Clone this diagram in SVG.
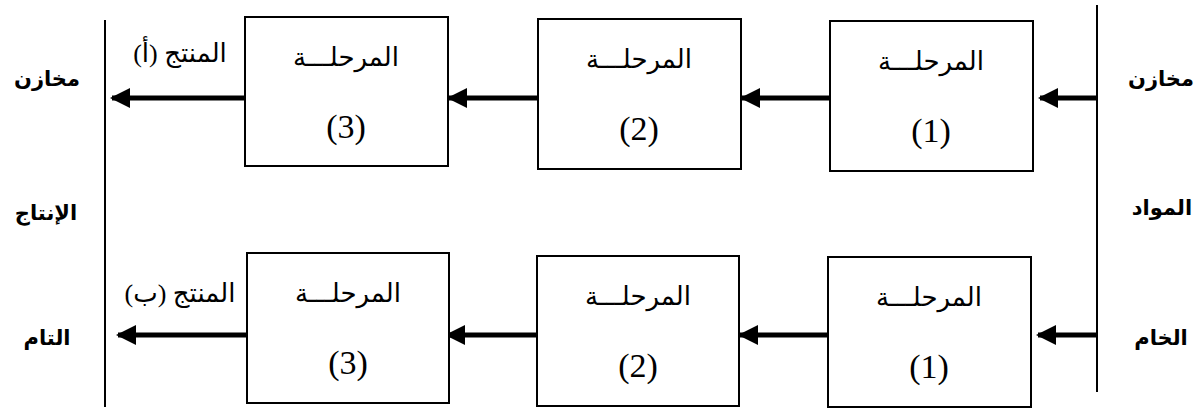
<svg xmlns="http://www.w3.org/2000/svg" width="1199" height="409" viewBox="0 0 1199 409">
<style>
.box{fill:#fff;stroke:#000;stroke-width:2}
.ln{stroke:#000;stroke-width:2;fill:none}
.ar{stroke:#000;stroke-width:5;fill:none;marker-end:url(#ah)}
.t{font-family:"Liberation Serif","DejaVu Serif","DejaVu Sans",serif;fill:#000;text-anchor:middle}
.ar1{font-size:26px}
.num{font-size:34px}
.lab{font-family:"DejaVu Sans","Liberation Sans",sans-serif;font-weight:bold;font-size:21px;fill:#000;text-anchor:middle}
</style>
<defs>
<marker id="ah" markerWidth="4" markerHeight="4" refX="3.6" refY="2" orient="auto" markerUnits="strokeWidth" viewBox="0 0 4 4">
<path d="M0,0 L4,2 L0,4 Z" fill="#000"/>
</marker>
</defs>
<g id="stores">
<line class="ln" x1="105" y1="20" x2="105" y2="407"/>
<line class="ln" x1="1097" y1="5" x2="1097" y2="392"/>
<text class="lab" x="47" y="86" direction="rtl">مخازن</text>
<text class="lab" x="46" y="220" direction="rtl">الإنتاج</text>
<text class="lab" x="47" y="345" direction="rtl">التام</text>
<text class="lab" x="1161" y="86" direction="rtl">مخازن</text>
<text class="lab" x="1162" y="215" direction="rtl">المواد</text>
<text class="lab" x="1161" y="345" direction="rtl">الخام</text>
</g>
<g id="connectors">
<line class="ar" x1="1097" y1="98" x2="1040" y2="98"/>
<line class="ar" x1="830" y1="98" x2="742" y2="98"/>
<line class="ar" x1="538" y1="98" x2="449" y2="98"/>
<line class="ar" x1="245" y1="98" x2="112" y2="98"/>
<line class="ar" x1="1097" y1="335" x2="1038" y2="335"/>
<line class="ar" x1="828" y1="335" x2="740" y2="335"/>
<line class="ar" x1="537" y1="335" x2="447" y2="335"/>
<line class="ar" x1="247" y1="335" x2="118" y2="335"/>
<text class="t ar1" x="180" y="62" direction="rtl">المنتج (أ)</text>
<text class="t ar1" x="180" y="302" direction="rtl">المنتج (ب)</text>
</g>
<g id="top-stage-1">
<rect class="box" x="830" y="21" width="203" height="150"/>
<text class="t ar1" x="931" y="70" direction="rtl">المرحلـــة</text>
<text class="t num" x="931" y="142">(1)</text>
</g>
<g id="top-stage-2">
<rect class="box" x="538" y="19" width="203" height="150"/>
<text class="t ar1" x="639" y="68" direction="rtl">المرحلـــة</text>
<text class="t num" x="639" y="140">(2)</text>
</g>
<g id="top-stage-3">
<rect class="box" x="245" y="17" width="203" height="149"/>
<text class="t ar1" x="346" y="66" direction="rtl">المرحلـــة</text>
<text class="t num" x="346" y="138">(3)</text>
</g>
<g id="bottom-stage-1">
<rect class="box" x="828" y="257" width="203" height="150"/>
<text class="t ar1" x="929" y="306" direction="rtl">المرحلـــة</text>
<text class="t num" x="929" y="378">(1)</text>
</g>
<g id="bottom-stage-2">
<rect class="box" x="537" y="256" width="202" height="150"/>
<text class="t ar1" x="638" y="305" direction="rtl">المرحلـــة</text>
<text class="t num" x="638" y="377">(2)</text>
</g>
<g id="bottom-stage-3">
<rect class="box" x="247" y="253" width="202" height="150"/>
<text class="t ar1" x="348" y="302" direction="rtl">المرحلـــة</text>
<text class="t num" x="348" y="374">(3)</text>
</g>
</svg>
